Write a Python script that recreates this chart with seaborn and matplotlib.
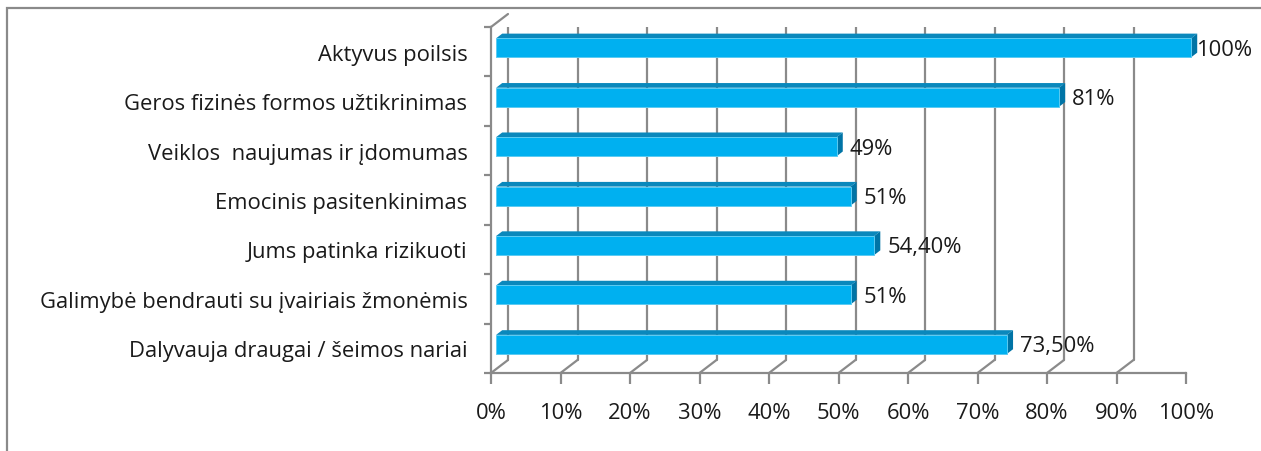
import matplotlib
matplotlib.use("Agg")
import matplotlib.pyplot as plt
import seaborn as sns
import numpy as np
from matplotlib.patches import Polygon, Rectangle
from matplotlib.transforms import IdentityTransform

# data
categories = [
    "Aktyvus poilsis",
    "Geros fizinės formos užtikrinimas",
    "Veiklos  naujumas ir įdomumas",
    "Emocinis pasitenkinimas",
    "Jums patinka rizikuoti",
    "Galimybė bendrauti su įvairiais žmonėmis",
    "Dalyvauja draugai / šeimos nariai",
]
values = [100, 81, 49, 51, 54.4, 51, 73.5]
value_labels = ["100%", "81%", "49%", "51%", "54,40%", "51%", "73,50%"]
x_ticks = [0, 10, 20, 30, 40, 50, 60, 70, 80, 90, 100]
x_tick_labels = ["0%", "10%", "20%", "30%", "40%", "50%", "60%", "70%", "80%", "90%", "100%"]

sns.set_style("white")
plt.rcParams["font.family"] = ["Open Sans", "DejaVu Sans"]

W, H, DPI = 1261, 452, 100
grid_col = "#8a8a8a"
text_col = "#1a1a1a"
front_col = "#00B0F0"
top_col = "#0A88BC"
side_col = "#0074A6"
DX, DY = 17, 13  # depth of the 3D box in pixels
FS = 15.8

fig = plt.figure(figsize=(W / DPI, H / DPI), dpi=DPI)
ax = fig.add_axes([491 / W, 1 - 374 / H, (1186 - 491) / W, (374 - 28) / H])

sns.barplot(x=values, y=categories, orient="h", color=front_col, saturation=1,
            width=0.385, ax=ax, zorder=5)
ax.set_xlim(0, 100)
ax.set_ylim(6.5, -0.5)
ax.set_xlabel("")
ax.set_ylabel("")


def px(x, y, depth=0.0):
    p = ax.transData.transform((x, y))
    return p[0] + depth * DX, p[1] + depth * DY


# back wall gridlines and floor diagonals
for t in x_ticks:
    b0 = px(t, 6.5, 1)
    b1 = px(t, -0.5, 1)
    f0 = px(t, 6.5, 0)
    ax.add_line(plt.Line2D([b0[0], b1[0]], [b0[1], b1[1]], color=grid_col, lw=1.6,
                           transform=IdentityTransform(), zorder=1))
    ax.add_line(plt.Line2D([f0[0], b0[0]], [f0[1], b0[1]], color=grid_col, lw=1.6,
                           transform=IdentityTransform(), zorder=1))
# left wall top diagonal
f0 = px(0, -0.5, 0)
b0 = px(0, -0.5, 1)
ax.add_line(plt.Line2D([f0[0], b0[0]], [f0[1], b0[1]], color=grid_col, lw=1.6,
                       transform=IdentityTransform(), zorder=1, clip_on=False))

# bars: shift front face into the box, add top and side faces
d_front, d_back = 0.3, 0.66
for patch in ax.patches:
    x0, y0 = patch.get_x(), patch.get_y()
    w, h = patch.get_width(), patch.get_height()
    ytop, ybot = min(y0, y0 + h), max(y0, y0 + h)
    front = [px(x0, ybot, d_front), px(x0 + w, ybot, d_front),
             px(x0 + w, ytop, d_front), px(x0, ytop, d_front)]
    top = [px(x0, ytop, d_front), px(x0 + w, ytop, d_front),
           px(x0 + w, ytop, d_back), px(x0, ytop, d_back)]
    side = [px(x0 + w, ybot, d_front), px(x0 + w, ybot, d_back),
            px(x0 + w, ytop, d_back), px(x0 + w, ytop, d_front)]
    patch.set_visible(False)
    ax.add_patch(Polygon(top, closed=True, facecolor=top_col, edgecolor="none",
                         transform=IdentityTransform(), zorder=5, clip_on=False))
    ax.add_patch(Polygon(side, closed=True, facecolor=side_col, edgecolor="none",
                         transform=IdentityTransform(), zorder=5, clip_on=False))
    ax.add_patch(Polygon(front, closed=True, facecolor=front_col, edgecolor="#5CCBF2",
                         lw=0.7, transform=IdentityTransform(), zorder=6, clip_on=False))

# value labels
for i, (v, lab) in enumerate(zip(values, value_labels)):
    pad = 10 if v >= 100 else 18
    ax.annotate(lab, xy=(v, i), xytext=(pad * 0.72, 2.5 * 0.72), textcoords="offset points",
                ha="left", va="center", fontsize=FS, color=text_col, zorder=7,
                annotation_clip=False)

# axes styling
for s in ["top", "right"]:
    ax.spines[s].set_visible(False)
for s in ["left", "bottom"]:
    ax.spines[s].set_color(grid_col)
    ax.spines[s].set_linewidth(1.6)
ax.set_xticks(x_ticks)
ax.set_xticklabels(x_tick_labels, fontsize=FS, color=text_col)
ax.tick_params(axis="x", direction="out", length=8, width=1.6, color=grid_col, pad=13,
               bottom=True)
ax.set_yticks(range(len(categories)))
ax.set_yticklabels(categories, fontsize=FS, color=text_col)
ax.set_yticks(np.arange(-0.5, len(categories), 1), minor=True)
ax.tick_params(axis="y", which="major", length=0, pad=17, left=True)
ax.tick_params(axis="y", which="minor", length=5, width=1.6, color=grid_col, left=True)
ax.grid(False)

# chart frame
fig.add_artist(Rectangle((7 / W, -0.5), 1.5, 1.5 - 9 / H, transform=fig.transFigure,
                         fill=False, edgecolor="#8a8a8a", lw=1.6))

fig.savefig("out.png", dpi=DPI)
